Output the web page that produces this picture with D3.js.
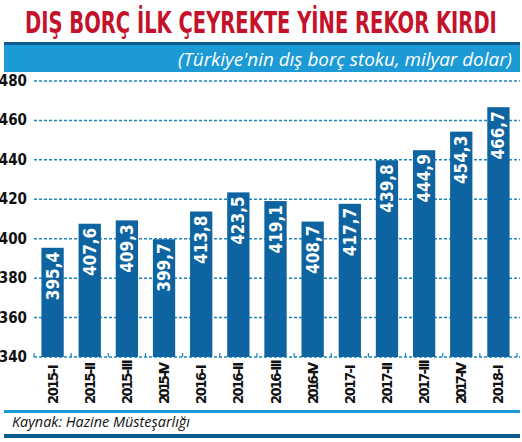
<!DOCTYPE html>
<html>
<head>
<meta charset="utf-8">
<script src="https://cdn.jsdelivr.net/npm/d3@7"></script>
<style>
  body { margin: 0; background: #fff; }
  svg { display: block; }
  .cond { font-family: "Liberation Sans Narrow", "DejaVu Sans Condensed", "Liberation Sans", sans-serif; font-weight: bold; }
</style>
</head>
<body>
<div class="chart"></div>
<script>
// chart data
var quarters = ['2015-I', '2015-II', '2015-III', '2015-IV', '2016-I', '2016-II', '2016-III',
  '2016-IV', '2017-I', '2017-II', '2017-III', '2017-IV', '2018-I'];
var debtStock = [395.4, 407.6, 409.3, 399.7, 413.8, 423.5, 419.1, 408.7, 417.7, 439.8, 444.9, 454.3, 466.7];
var yTicks = [340, 360, 380, 400, 420, 440, 460, 480];

var width = 522, height = 442;
var barBlue = '#0d64a0', cyan = '#1b9ad6', darkLine = '#0d5a8c', red = '#c4122b';

var svg = d3.select('.chart').append('svg').attr('width', width).attr('height', height);

// header - stretch the title to the width it has in the print
var title = svg.append('text').attr('class', 'cond')
  .attr('font-size', 30).attr('fill', red)
  .text('DIŞ BORÇ İLK ÇEYREKTE YİNE REKOR KIRDI');
var titleLen = title.node().getComputedTextLength();
title.attr('transform', 'translate(25,33) scale(' + (472 / titleLen) + ',1)');

svg.append('rect').attr('x', 4).attr('y', 42).attr('width', 516).attr('height', 3).attr('fill', darkLine);
svg.append('rect').attr('x', 4).attr('y', 45).attr('width', 516).attr('height', 27).attr('fill', cyan);
svg.append('text')
  .attr('x', 512).attr('y', 66).attr('text-anchor', 'end')
  .attr('font-family', '"Open Sans", sans-serif').attr('font-style', 'italic')
  .attr('font-size', 18.5).attr('fill', '#fff')
  .attr('textLength', 334).attr('lengthAdjust', 'spacingAndGlyphs')
  .text("(Türkiye'nin dış borç stoku, milyar dolar)");

// scales
var x = d3.scaleBand().domain(quarters).range([34, 517]).paddingInner(0.4).paddingOuter(0.2);
var y = d3.scaleLinear().domain([340, 480]).range([357, 81]);

// grid + y labels
svg.append('g').selectAll('line').data(yTicks).enter().append('line')
  .attr('x1', 34).attr('x2', 520)
  .attr('y1', function (d) { return y(d); }).attr('y2', function (d) { return y(d); })
  .attr('stroke', '#1a86bd').attr('stroke-width', 1.5)
  .attr('stroke-dasharray', '3,2');

svg.append('g').selectAll('text').data(yTicks).enter().append('text')
  .attr('class', 'cond')
  .attr('x', 27).attr('y', function (d) { return y(d) + 5; })
  .attr('text-anchor', 'end').attr('font-size', 15).attr('fill', '#111')
  .text(function (d) { return d; });

// little ticks on the baseline between bars
var step = x.step();
svg.append('g').selectAll('line').data(d3.range(quarters.length + 1)).enter().append('line')
  .attr('x1', function (i) { return x(quarters[0]) - (step - x.bandwidth()) / 2 + i * step; })
  .attr('x2', function (i) { return x(quarters[0]) - (step - x.bandwidth()) / 2 + i * step; })
  .attr('y1', y(340) - 4).attr('y2', y(340))
  .attr('stroke', '#1a86bd').attr('stroke-width', 1.2);

// bars
svg.append('g').selectAll('rect').data(debtStock).enter().append('rect')
  .attr('x', function (d, i) { return x(quarters[i]); })
  .attr('y', function (d) { return y(d); })
  .attr('width', x.bandwidth())
  .attr('height', function (d) { return y(340) - y(d); })
  .attr('fill', barBlue);

// value labels inside bars
svg.append('g').selectAll('text').data(debtStock).enter().append('text')
  .attr('class', 'cond')
  .attr('transform', function (d, i) {
    return 'translate(' + (x(quarters[i]) + x.bandwidth() / 2 + 6) + ',' + (y(d) + 4) + ') rotate(-90)';
  })
  .attr('text-anchor', 'end').attr('font-size', 17).attr('fill', '#fff')
  .text(function (d) { return d.toFixed(1).replace('.', ','); });

// x labels, the roman numerals sit tight together in the print
svg.append('g').selectAll('text').data(quarters).enter().append('text')
  .attr('class', 'cond')
  .attr('transform', function (d) {
    return 'translate(' + (x(d) + x.bandwidth() / 2 + 5) + ',' + 404 + ') rotate(-90)';
  })
  .attr('text-anchor', 'start').attr('font-size', 14.5).attr('fill', '#111')
  .text(function (d) { return d; })
  .each(function (d) {
    var maxLen = 37 + 2.5 * d.split('-')[1].length;
    if (this.getComputedTextLength() > maxLen) {
      d3.select(this).attr('textLength', maxLen).attr('lengthAdjust', 'spacing');
    }
  });

// footer
svg.append('rect').attr('x', 4).attr('y', 410).attr('width', 516).attr('height', 3).attr('fill', cyan);
svg.append('text')
  .attr('x', 12).attr('y', 427)
  .attr('font-family', '"Open Sans", sans-serif').attr('font-style', 'italic')
  .attr('font-size', 14.5).attr('fill', '#111')
  .attr('textLength', 178).attr('lengthAdjust', 'spacingAndGlyphs')
  .text('Kaynak: Hazine Müsteşarlığı');
svg.append('rect').attr('x', 4).attr('y', 434).attr('width', 516).attr('height', 4).attr('fill', darkLine);
</script>
</body>
</html>
